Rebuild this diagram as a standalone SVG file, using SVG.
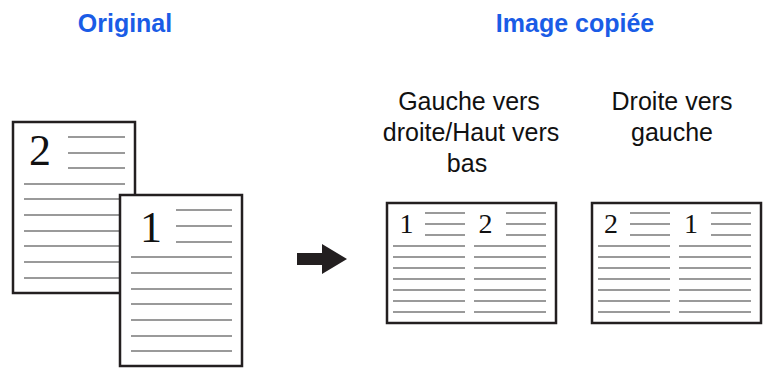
<svg xmlns="http://www.w3.org/2000/svg" width="763" height="372" viewBox="0 0 763 372">
<style>
.title{font-family:"Liberation Sans",Arial,sans-serif;font-weight:bold;font-size:25px;fill:#1a5ce6;text-anchor:middle}
.lbl{font-family:"Liberation Sans",Arial,sans-serif;font-size:25px;fill:#111;text-anchor:middle}
.page{fill:#fff;stroke:#231f20;stroke-width:2.5}
.ln{stroke:#9a9a9a;stroke-width:2;fill:none}
.big{font-family:"Liberation Serif","Times New Roman",serif;font-size:44px;fill:#111;text-anchor:middle}
.sm{font-family:"Liberation Serif","Times New Roman",serif;font-size:28px;fill:#111;text-anchor:middle}
</style>
<rect width="763" height="372" fill="#fff"/>
<g id="title-original"><text class="title" x="125" y="32">Original</text></g>
<g id="title-copy"><text class="title" x="575" y="32">Image copiée</text></g>
<g id="label-ltr">
<text class="lbl" x="469" y="110">Gauche vers</text>
<text class="lbl" x="471" y="141">droite/Haut vers</text>
<text class="lbl" x="467" y="172">bas</text>
</g>
<g id="label-rtl">
<text class="lbl" x="672" y="110">Droite vers</text>
<text class="lbl" x="672" y="141">gauche</text>
</g>
<g id="page-2">
<rect class="page" x="13" y="122" width="122" height="171"/>
<text class="big" x="40" y="165">2</text>
<path class="ln" d="M68 137H125M68 153H125M68 168H125M24 184H125M24 199H125M24 215H125M24 231H125M24 246H125M24 262H125M24 278H125"/>
</g>
<g id="page-1">
<rect class="page" x="120" y="195" width="122" height="171"/>
<text class="big" x="151" y="242">1</text>
<path class="ln" d="M176 210H232M176 226H232M176 242H232M131 257H232M131 273H232M131 289H232M131 304H232M131 320H232M131 336H232M131 351H232"/>
</g>
<g id="connectors">
<polygon points="297,253 322,253 322,244 347,259 322,274 322,265 297,265" fill="#231f20"/>
</g>
<g id="copy-ltr">
<rect class="page" x="387" y="203" width="169" height="120"/>
<text class="sm" x="406.5" y="233">1</text>
<text class="sm" x="485.5" y="233">2</text>
<path class="ln" d="M425 213H465M425 224H465M425 235H465M506 213H546M506 224H546M506 235H546M393 246H465M393 257H465M393 268H465M393 279H465M393 290H465M393 301H465M393 312H465M474 246H546M474 257H546M474 268H546M474 279H546M474 290H546M474 301H546M474 312H546"/>
</g>
<g id="copy-rtl">
<rect class="page" x="592" y="203" width="169" height="120"/>
<text class="sm" x="611" y="233">2</text>
<text class="sm" x="691" y="233">1</text>
<path class="ln" d="M630 213H670M630 224H670M630 235H670M711 213H751M711 224H751M711 235H751M598 246H670M598 257H670M598 268H670M598 279H670M598 290H670M598 301H670M598 312H670M679 246H751M679 257H751M679 268H751M679 279H751M679 290H751M679 301H751M679 312H751"/>
</g>
</svg>
